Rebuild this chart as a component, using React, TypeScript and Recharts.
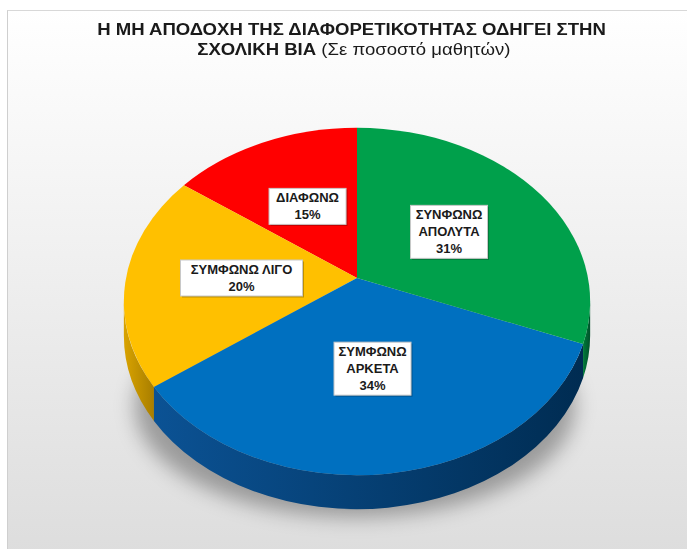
import React from 'react';
import { PieChart, Pie, Cell } from 'recharts';

const categories = ['ΔΙΑΦΩΝΩ', 'ΣΥΜΦΩΝΩ ΛΙΓΟ', 'ΣΥΜΦΩΝΩ ΑΡΚΕΤΑ', 'ΣΥΝΦΩΝΩ ΑΠΟΛΥΤΑ'];
const percentages = [15, 20, 34, 31];
const topColors = ['#FF0000', '#FFC000', '#0070C0', '#00A04B'];
const sideLight = ['#C00000', '#D9A300', '#0B5294', '#007A3A'];
const sideDark = ['#8A0000', '#A87E00', '#002C52', '#00502A'];

const data = categories.map((name, i) => ({ name, value: percentages[i] }));

// perspective view of the pie disc
const RATIO = 0.738; // vertical / horizontal scale
const PERSP = 0.1355; // perspective strength
const DEPTH = 34;
const RAD = Math.PI / 180;

function proj(cx: number, cy: number, A: number, r: number, deg: number) {
  const B = A * RATIO;
  const x = r * Math.cos(deg * RAD);
  const y = r * Math.sin(deg * RAD);
  const w = 1 + PERSP * y;
  return [cx + (A * x) / w, cy - (B * y) / w];
}

function screenEllipse(cx: number, cy: number, A: number) {
  const B = A * RATIO;
  const k = 1 - PERSP * PERSP;
  return { ex: cx, ey: cy + (B * PERSP) / k, rx: A / Math.sqrt(k), ry: B / k };
}

function phiOf(cx: number, cy: number, A: number, deg: number) {
  const { ex, ey, rx, ry } = screenEllipse(cx, cy, A);
  const p = proj(cx, cy, A, 1, deg);
  const phi = Math.atan2(-(p[1] - ey) / ry, (p[0] - ex) / rx) / RAD;
  let d = phi - deg;
  d = ((d % 360) + 540) % 360 - 180;
  return deg + d;
}

function Slice3D(props: any) {
  const { cx, cy, outerRadius, startAngle, endAngle, index } = props;
  const A = outerRadius;
  const { ex, ey, rx, ry } = screenEllipse(cx, cy, A);
  const a1 = Math.min(startAngle, endAngle);
  const a2 = Math.max(startAngle, endAngle);
  const f1 = phiOf(cx, cy, A, a1);
  const f2 = phiOf(cx, cy, A, a2);
  const p1 = proj(cx, cy, A, 1, a1);
  const p2 = proj(cx, cy, A, 1, a2);
  const large = f2 - f1 > 180 ? 1 : 0;
  const top = `M${cx},${cy} L${p1[0]},${p1[1]} A${rx},${ry} 0 ${large} 0 ${p2[0]},${p2[1]} Z`;
  const ep = (f: number) => [ex + rx * Math.cos(f * RAD), ey - ry * Math.sin(f * RAD)];
  const sides: string[] = [];
  [[180, 360], [540, 720]].forEach(([lo, hi]) => {
    const b1 = Math.max(f1, lo);
    const b2 = Math.min(f2, hi);
    if (b2 > b1) {
      const q1 = ep(b1);
      const q2 = ep(b2);
      const lg = b2 - b1 > 180 ? 1 : 0;
      sides.push(
        `M${q1[0]},${q1[1]} A${rx},${ry} 0 ${lg} 0 ${q2[0]},${q2[1]} L${q2[0]},${q2[1] + DEPTH} A${rx},${ry} 0 ${lg} 1 ${q1[0]},${q1[1] + DEPTH} Z`
      );
    }
  });
  const gid = `side-grad-${index}`;
  return (
    <g>
      <defs>
        <linearGradient id={gid} x1="0" y1="0" x2="1" y2="0">
          <stop offset="0%" stopColor={sideLight[index]} />
          <stop offset="100%" stopColor={sideDark[index]} />
        </linearGradient>
      </defs>
      {sides.map((d, k) => (
        <path key={k} d={d} fill={`url(#${gid})`} stroke="none" />
      ))}
      <path d={top} fill={topColors[index]} stroke="none" />
    </g>
  );
}

function renderLabel(props: any) {
  const { cx, cy, midAngle, outerRadius, index, value } = props;
  const name = categories[index];
  const [x, y] = proj(cx, cy, outerRadius, 0.5, midAngle);
  const nameLines = name.length > 12 ? name.split(' ') : [name];
  const lines = [...nameLines, `${value}%`];
  const longest = Math.max(...lines.map((l) => l.length));
  const w = longest * 9 + 14;
  const lh = 17;
  const h = lines.length * lh + 2;
  return (
    <g key={`lbl-${index}`}>
      <rect x={x - w / 2 + 1.5} y={y - h / 2 + 1.5} width={w} height={h} fill="rgba(0,0,0,0.25)" />
      <rect x={x - w / 2} y={y - h / 2} width={w} height={h} fill="#ffffff" stroke="#c8c8c8" strokeWidth={1} />
      <text
        x={x}
        textAnchor="middle"
        fontFamily="'Liberation Sans', Arial, sans-serif"
        fontWeight="bold"
        fontSize={13}
        fill="#1a1a1a"
      >
        {lines.map((l, k) => (
          <tspan key={k} x={x} y={y - h / 2 + 1 + lh * k + 13}>
            {l}
          </tspan>
        ))}
      </text>
    </g>
  );
}

export default function App() {
  return (
    <div style={{ position: 'absolute', left: 0, top: 0, width: 687, height: 549, overflow: 'hidden', background: '#ffffff' }}>
      <div
        style={{
          position: 'absolute',
          left: 7,
          top: 10,
          width: 700,
          height: 560,
          background: 'linear-gradient(180deg, #ffffff 0%, #f3f3f3 35%, #dcdcdc 100%)',
          borderLeft: '1px solid #cfcfcf',
          borderTop: '1px solid #d8d8d8',
        }}
      />
      <div
        style={{
          position: 'absolute',
          left: 135,
          top: 295,
          width: 440,
          height: 222,
          borderRadius: '50%',
          background: 'rgba(0,0,0,0.32)',
          filter: 'blur(10px)',
        }}
      />
      <div
        style={{
          position: 'absolute',
          left: 8,
          top: 20,
          width: 687,
          textAlign: 'center',
          fontFamily: "'Liberation Sans', Arial, sans-serif",
          fontSize: 16,
          lineHeight: '20px',
          color: '#1a1a1a',
          transform: 'scaleX(1.16)',
          transformOrigin: '343.5px 0',
        }}
      >
        <div style={{ fontWeight: 'bold' }}>Η ΜΗ ΑΠΟΔΟΧΗ ΤΗΣ ΔΙΑΦΟΡΕΤΙΚΟΤΗΤΑΣ ΟΔΗΓΕΙ ΣΤΗΝ</div>
        <div style={{ marginLeft: 4 }}>
          <span style={{ fontWeight: 'bold' }}>ΣΧΟΛΙΚΗ ΒΙΑ</span> (Σε ποσοστό μαθητών)
        </div>
      </div>
      <div style={{ position: 'absolute', left: 0, top: 0 }}>
        <PieChart width={687} height={549}>
          <Pie
            data={data}
            dataKey="value"
            nameKey="name"
            cx={352}
            cy={273}
            outerRadius={231}
            startAngle={90}
            endAngle={450}
            stroke="none"
            shape={Slice3D}
            label={renderLabel}
            labelLine={false}
            isAnimationActive={false}
          >
            {data.map((d, i) => (
              <Cell key={d.name} fill={topColors[i]} />
            ))}
          </Pie>
        </PieChart>
      </div>
    </div>
  );
}
